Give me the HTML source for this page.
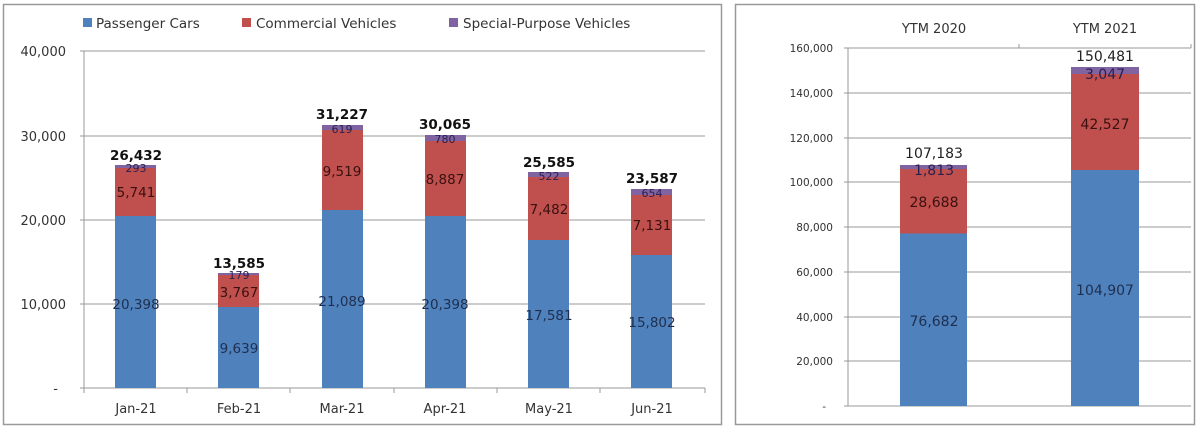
<!DOCTYPE html>
<html><head><meta charset="utf-8"><style>
html,body{margin:0;padding:0;background:#fff;width:1200px;height:429px;overflow:hidden}
svg{font-family:"DejaVu Sans","Liberation Sans",sans-serif}
</style></head><body>
<svg width="1200" height="429" viewBox="0 0 1200 429" xmlns="http://www.w3.org/2000/svg">
<rect x="3.5" y="4.5" width="718" height="420" fill="#fff" stroke="#999" stroke-width="1.5"/>
<rect x="735.5" y="4.5" width="459" height="420" fill="#fff" stroke="#999" stroke-width="1.5"/>
<!-- legend -->
<g font-size="13.5" fill="#333">
<rect x="83" y="18" width="9" height="9" fill="#4f81bd"/><text x="96" y="28">Passenger Cars</text>
<rect x="242" y="18" width="9" height="9" fill="#c0504d"/><text x="256" y="28">Commercial Vehicles</text>
<rect x="449" y="18" width="9" height="9" fill="#8064a2"/><text x="463" y="28">Special-Purpose Vehicles</text>
</g>
<!-- left grid -->
<g stroke="#999" stroke-width="1">
<line x1="80" y1="51" x2="705" y2="51"/><line x1="80" y1="136" x2="705" y2="136"/>
<line x1="80" y1="220" x2="705" y2="220"/><line x1="80" y1="304" x2="705" y2="304"/>
<line x1="80" y1="388" x2="705" y2="388"/><line x1="84" y1="51" x2="84" y2="393"/>
<line x1="187" y1="388" x2="187" y2="393"/><line x1="290" y1="388" x2="290" y2="393"/>
<line x1="394" y1="388" x2="394" y2="393"/><line x1="497" y1="388" x2="497" y2="393"/>
<line x1="600" y1="388" x2="600" y2="393"/><line x1="705" y1="388" x2="705" y2="393"/>
</g>
<g font-size="13" fill="#333" text-anchor="end">
<text x="66" y="56">40,000</text><text x="66" y="141">30,000</text><text x="66" y="225">20,000</text><text x="66" y="309">10,000</text><text x="58" y="393">-</text>
</g>
<g font-size="13" fill="#333" text-anchor="middle">
<text x="136" y="413">Jan-21</text><text x="239" y="413">Feb-21</text><text x="342" y="413">Mar-21</text><text x="445" y="413">Apr-21</text><text x="549" y="413">May-21</text><text x="652" y="413">Jun-21</text>
</g>
<!-- bars left -->
<g>
<rect x="115" y="216" width="41" height="172" fill="#4f81bd"/><rect x="115" y="168" width="41" height="48" fill="#c0504d"/><rect x="115" y="165" width="41" height="3" fill="#8064a2"/>
<rect x="218" y="307" width="41" height="81" fill="#4f81bd"/><rect x="218" y="275" width="41" height="32" fill="#c0504d"/><rect x="218" y="273" width="41" height="2" fill="#8064a2"/>
<rect x="322" y="210" width="41" height="178" fill="#4f81bd"/><rect x="322" y="130" width="41" height="80" fill="#c0504d"/><rect x="322" y="125" width="41" height="5" fill="#8064a2"/>
<rect x="425" y="216" width="41" height="172" fill="#4f81bd"/><rect x="425" y="141" width="41" height="75" fill="#c0504d"/><rect x="425" y="135" width="41" height="6" fill="#8064a2"/>
<rect x="528" y="240" width="41" height="148" fill="#4f81bd"/><rect x="528" y="177" width="41" height="63" fill="#c0504d"/><rect x="528" y="172" width="41" height="5" fill="#8064a2"/>
<rect x="631" y="255" width="41" height="133" fill="#4f81bd"/><rect x="631" y="195" width="41" height="60" fill="#c0504d"/><rect x="631" y="189" width="41" height="6" fill="#8064a2"/>
</g>
<g font-size="13.5" text-anchor="middle">
<g fill="#1f2f4f"><text x="136" y="309">20,398</text><text x="239" y="353">9,639</text><text x="342" y="306">21,089</text><text x="445" y="309">20,398</text><text x="549" y="320">17,581</text><text x="652" y="327">15,802</text></g>
<g fill="#3a1010"><text x="136" y="197">5,741</text><text x="239" y="297">3,767</text><text x="342" y="176">9,519</text><text x="445" y="184">8,887</text><text x="549" y="214">7,482</text><text x="652" y="230">7,131</text></g>
<g fill="#2a1f4f" font-size="11"><text x="136" y="172">293</text><text x="239" y="279">179</text><text x="342" y="133">619</text><text x="445" y="143">780</text><text x="549" y="180">522</text><text x="652" y="197">654</text></g>
<g fill="#111" font-weight="bold"><text x="136" y="160">26,432</text><text x="239" y="268">13,585</text><text x="342" y="119">31,227</text><text x="445" y="129">30,065</text><text x="549" y="167">25,585</text><text x="652" y="183">23,587</text></g>
</g>
<!-- right chart -->
<g font-size="13" fill="#333" text-anchor="middle"><text x="934" y="33">YTM 2020</text><text x="1105" y="33">YTM 2021</text></g>
<g stroke="#999" stroke-width="1">
<line x1="844" y1="48" x2="1191" y2="48"/><line x1="844" y1="93" x2="1191" y2="93"/><line x1="844" y1="138" x2="1191" y2="138"/>
<line x1="844" y1="182" x2="1191" y2="182"/><line x1="844" y1="227" x2="1191" y2="227"/><line x1="844" y1="272" x2="1191" y2="272"/>
<line x1="844" y1="317" x2="1191" y2="317"/><line x1="844" y1="361" x2="1191" y2="361"/><line x1="844" y1="406" x2="1191" y2="406"/>
<line x1="848" y1="48" x2="848" y2="406"/><line x1="1019" y1="44" x2="1019" y2="48"/><line x1="1191" y1="44" x2="1191" y2="48"/>
</g>
<g font-size="10.5" fill="#333" text-anchor="end">
<text x="833" y="52">160,000</text><text x="833" y="97">140,000</text><text x="833" y="142">120,000</text><text x="833" y="186">100,000</text><text x="833" y="231">80,000</text><text x="833" y="276">60,000</text><text x="833" y="321">40,000</text><text x="833" y="365">20,000</text><text x="826" y="410">-</text>
</g>
<rect x="900" y="233.5" width="67" height="172.5" fill="#4f81bd"/><rect x="900" y="169" width="67" height="64.5" fill="#c0504d"/><rect x="900" y="165" width="67" height="4" fill="#8064a2"/>
<rect x="1071" y="170" width="68" height="236" fill="#4f81bd"/><rect x="1071" y="74" width="68" height="96" fill="#c0504d"/><rect x="1071" y="67" width="68" height="7" fill="#8064a2"/>
<g font-size="14" text-anchor="middle">
<text x="934" y="326" fill="#1f2f4f">76,682</text><text x="1105" y="295" fill="#1f2f4f">104,907</text>
<text x="934" y="207" fill="#3a1010">28,688</text><text x="1105" y="129" fill="#3a1010">42,527</text>
<text x="934" y="175" fill="#2a1f4f">1,813</text><text x="1105" y="79" fill="#2a1f4f">3,047</text>
<text x="934" y="158" fill="#222">107,183</text><text x="1105" y="61" fill="#222">150,481</text>
</g>
</svg>
</body></html>
